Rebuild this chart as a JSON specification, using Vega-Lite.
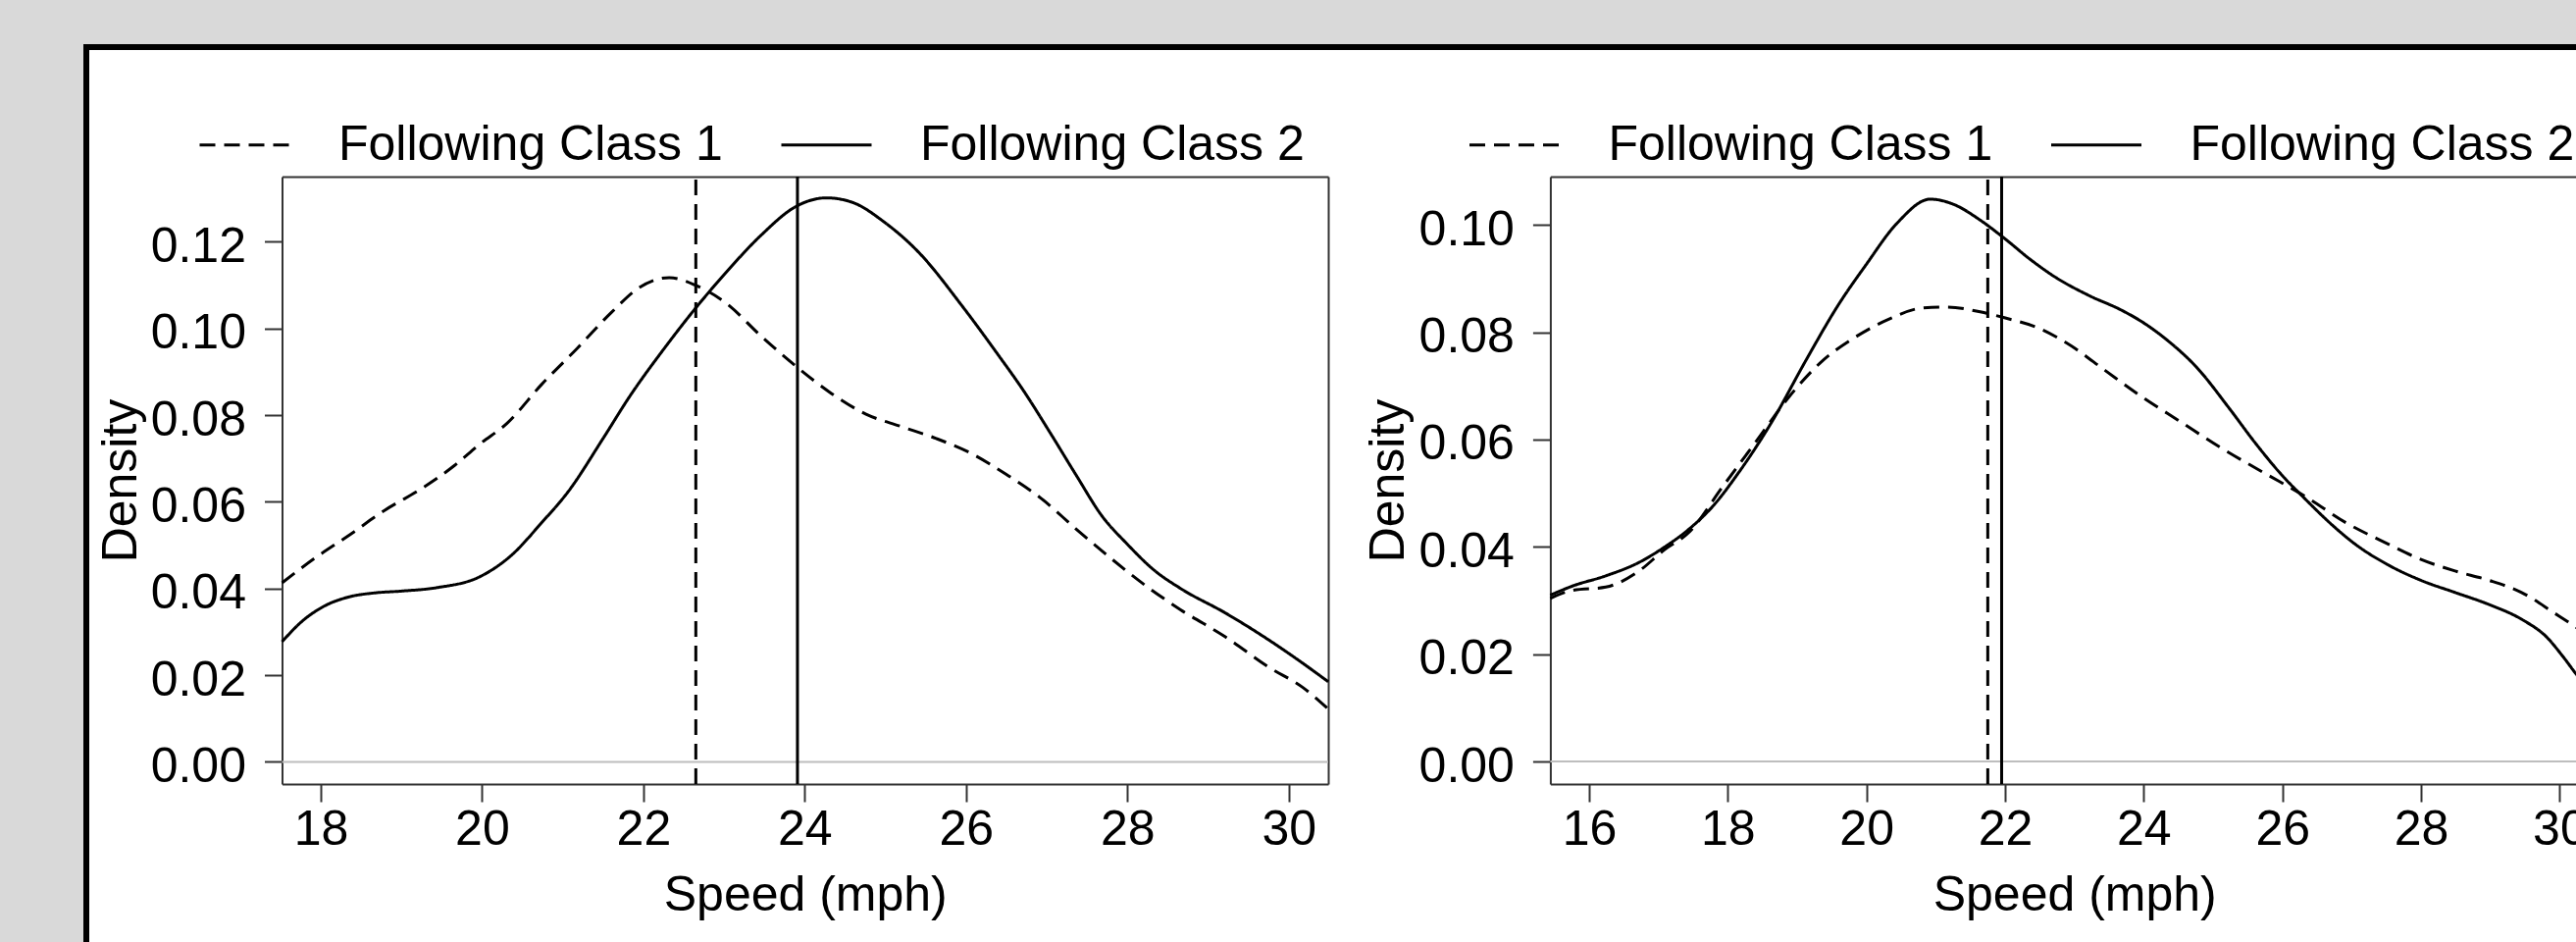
{
  "$schema": "https://vega.github.io/schema/vega-lite/v6.json",
  "background": "#d9d9d9",
  "autosize": {"type": "none"},
  "padding": {"left": 88, "top": 48, "right": -62, "bottom": -88},
  "width": 2600,
  "height": 1000,
  "config": {
    "font": "Liberation Sans",
    "view": {"fill": "white", "stroke": "black", "strokeWidth": 6},
    "axis": {"grid": false, "domainColor": "#333333", "domainWidth": 2, "tickColor": "#333333", "tickWidth": 2, "tickSize": 18, "labelFont": "Liberation Sans", "labelFontSize": 50, "labelColor": "black", "titleFont": "Liberation Sans", "titleFontSize": 50, "titleFontWeight": "normal", "titleColor": "black", "labelFlush": false, "labelOverlap": false},
    "legend": {"title": null, "orient": "none", "direction": "horizontal", "columns": 2, "symbolType": "stroke", "symbolSize": 8464, "symbolStrokeWidth": 3, "symbolStrokeColor": "black", "labelFont": "Liberation Sans", "labelFontSize": 50, "labelColor": "black", "labelOffset": 48, "columnPadding": 53, "padding": 0, "labelLimit": 1000}
  },
  "datasets": {
    "curves": [
      {"panel": "Left", "class": "Following Class 1", "speed": 17.52, "density": 0.0413},
      {"panel": "Left", "class": "Following Class 1", "speed": 17.92, "density": 0.0469},
      {"panel": "Left", "class": "Following Class 1", "speed": 18.36, "density": 0.0524},
      {"panel": "Left", "class": "Following Class 1", "speed": 18.79, "density": 0.0580},
      {"panel": "Left", "class": "Following Class 1", "speed": 19.23, "density": 0.0628},
      {"panel": "Left", "class": "Following Class 1", "speed": 19.66, "density": 0.0684},
      {"panel": "Left", "class": "Following Class 1", "speed": 19.97, "density": 0.0733},
      {"panel": "Left", "class": "Following Class 1", "speed": 20.31, "density": 0.0781},
      {"panel": "Left", "class": "Following Class 1", "speed": 20.74, "density": 0.0871},
      {"panel": "Left", "class": "Following Class 1", "speed": 21.18, "density": 0.0954},
      {"panel": "Left", "class": "Following Class 1", "speed": 21.61, "density": 0.1038},
      {"panel": "Left", "class": "Following Class 1", "speed": 21.94, "density": 0.1093},
      {"panel": "Left", "class": "Following Class 1", "speed": 22.32, "density": 0.1117},
      {"panel": "Left", "class": "Following Class 1", "speed": 22.64, "density": 0.1100},
      {"panel": "Left", "class": "Following Class 1", "speed": 23.02, "density": 0.1059},
      {"panel": "Left", "class": "Following Class 1", "speed": 23.46, "density": 0.0982},
      {"panel": "Left", "class": "Following Class 1", "speed": 23.89, "density": 0.0913},
      {"panel": "Left", "class": "Following Class 1", "speed": 24.33, "density": 0.0850},
      {"panel": "Left", "class": "Following Class 1", "speed": 24.76, "density": 0.0802},
      {"panel": "Left", "class": "Following Class 1", "speed": 25.19, "density": 0.0774},
      {"panel": "Left", "class": "Following Class 1", "speed": 25.63, "density": 0.0746},
      {"panel": "Left", "class": "Following Class 1", "speed": 26.06, "density": 0.0712},
      {"panel": "Left", "class": "Following Class 1", "speed": 26.50, "density": 0.0663},
      {"panel": "Left", "class": "Following Class 1", "speed": 26.93, "density": 0.0608},
      {"panel": "Left", "class": "Following Class 1", "speed": 27.36, "density": 0.0538},
      {"panel": "Left", "class": "Following Class 1", "speed": 27.80, "density": 0.0469},
      {"panel": "Left", "class": "Following Class 1", "speed": 28.23, "density": 0.0406},
      {"panel": "Left", "class": "Following Class 1", "speed": 28.66, "density": 0.0351},
      {"panel": "Left", "class": "Following Class 1", "speed": 29.21, "density": 0.0289},
      {"panel": "Left", "class": "Following Class 1", "speed": 29.75, "density": 0.0219},
      {"panel": "Left", "class": "Following Class 1", "speed": 30.18, "density": 0.0171},
      {"panel": "Left", "class": "Following Class 1", "speed": 30.49, "density": 0.0122},
      {"panel": "Left", "class": "Following Class 2", "speed": 17.52, "density": 0.0277},
      {"panel": "Left", "class": "Following Class 2", "speed": 17.76, "density": 0.0323},
      {"panel": "Left", "class": "Following Class 2", "speed": 18.03, "density": 0.0358},
      {"panel": "Left", "class": "Following Class 2", "speed": 18.36, "density": 0.0381},
      {"panel": "Left", "class": "Following Class 2", "speed": 18.68, "density": 0.0390},
      {"panel": "Left", "class": "Following Class 2", "speed": 19.00, "density": 0.0394},
      {"panel": "Left", "class": "Following Class 2", "speed": 19.44, "density": 0.0402},
      {"panel": "Left", "class": "Following Class 2", "speed": 19.97, "density": 0.0427},
      {"panel": "Left", "class": "Following Class 2", "speed": 20.36, "density": 0.0476},
      {"panel": "Left", "class": "Following Class 2", "speed": 20.74, "density": 0.0552},
      {"panel": "Left", "class": "Following Class 2", "speed": 21.07, "density": 0.0624},
      {"panel": "Left", "class": "Following Class 2", "speed": 21.50, "density": 0.0746},
      {"panel": "Left", "class": "Following Class 2", "speed": 21.83, "density": 0.0843},
      {"panel": "Left", "class": "Following Class 2", "speed": 22.26, "density": 0.0954},
      {"panel": "Left", "class": "Following Class 2", "speed": 22.64, "density": 0.1045},
      {"panel": "Left", "class": "Following Class 2", "speed": 23.02, "density": 0.1128},
      {"panel": "Left", "class": "Following Class 2", "speed": 23.46, "density": 0.1215},
      {"panel": "Left", "class": "Following Class 2", "speed": 23.89, "density": 0.1281},
      {"panel": "Left", "class": "Following Class 2", "speed": 24.27, "density": 0.1301},
      {"panel": "Left", "class": "Following Class 2", "speed": 24.60, "density": 0.1290},
      {"panel": "Left", "class": "Following Class 2", "speed": 24.98, "density": 0.1246},
      {"panel": "Left", "class": "Following Class 2", "speed": 25.41, "density": 0.1176},
      {"panel": "Left", "class": "Following Class 2", "speed": 25.95, "density": 0.1052},
      {"panel": "Left", "class": "Following Class 2", "speed": 26.39, "density": 0.0941},
      {"panel": "Left", "class": "Following Class 2", "speed": 26.71, "density": 0.0857},
      {"panel": "Left", "class": "Following Class 2", "speed": 27.04, "density": 0.0760},
      {"panel": "Left", "class": "Following Class 2", "speed": 27.36, "density": 0.0663},
      {"panel": "Left", "class": "Following Class 2", "speed": 27.69, "density": 0.0566},
      {"panel": "Left", "class": "Following Class 2", "speed": 27.99, "density": 0.0504},
      {"panel": "Left", "class": "Following Class 2", "speed": 28.34, "density": 0.0441},
      {"panel": "Left", "class": "Following Class 2", "speed": 28.66, "density": 0.0400},
      {"panel": "Left", "class": "Following Class 2", "speed": 29.21, "density": 0.0344},
      {"panel": "Left", "class": "Following Class 2", "speed": 29.64, "density": 0.0295},
      {"panel": "Left", "class": "Following Class 2", "speed": 30.08, "density": 0.0240},
      {"panel": "Left", "class": "Following Class 2", "speed": 30.49, "density": 0.0185},
      {"panel": "Right", "class": "Following Class 1", "speed": 15.44, "density": 0.0304},
      {"panel": "Right", "class": "Following Class 1", "speed": 15.76, "density": 0.0319},
      {"panel": "Right", "class": "Following Class 1", "speed": 16.24, "density": 0.0325},
      {"panel": "Right", "class": "Following Class 1", "speed": 16.72, "density": 0.0355},
      {"panel": "Right", "class": "Following Class 1", "speed": 17.08, "density": 0.0394},
      {"panel": "Right", "class": "Following Class 1", "speed": 17.44, "density": 0.0427},
      {"panel": "Right", "class": "Following Class 1", "speed": 17.92, "density": 0.0511},
      {"panel": "Right", "class": "Following Class 1", "speed": 18.40, "density": 0.0595},
      {"panel": "Right", "class": "Following Class 1", "speed": 18.88, "density": 0.0679},
      {"panel": "Right", "class": "Following Class 1", "speed": 19.36, "density": 0.0746},
      {"panel": "Right", "class": "Following Class 1", "speed": 19.84, "density": 0.0791},
      {"panel": "Right", "class": "Following Class 1", "speed": 20.32, "density": 0.0824},
      {"panel": "Right", "class": "Following Class 1", "speed": 20.80, "density": 0.0845},
      {"panel": "Right", "class": "Following Class 1", "speed": 21.16, "density": 0.0847},
      {"panel": "Right", "class": "Following Class 1", "speed": 21.64, "density": 0.0838},
      {"panel": "Right", "class": "Following Class 1", "speed": 21.99, "density": 0.0827},
      {"panel": "Right", "class": "Following Class 1", "speed": 22.48, "density": 0.0808},
      {"panel": "Right", "class": "Following Class 1", "speed": 22.96, "density": 0.0774},
      {"panel": "Right", "class": "Following Class 1", "speed": 23.44, "density": 0.0729},
      {"panel": "Right", "class": "Following Class 1", "speed": 23.98, "density": 0.0679},
      {"panel": "Right", "class": "Following Class 1", "speed": 24.52, "density": 0.0634},
      {"panel": "Right", "class": "Following Class 1", "speed": 25.12, "density": 0.0584},
      {"panel": "Right", "class": "Following Class 1", "speed": 25.72, "density": 0.0539},
      {"panel": "Right", "class": "Following Class 1", "speed": 26.33, "density": 0.0494},
      {"panel": "Right", "class": "Following Class 1", "speed": 26.93, "density": 0.0444},
      {"panel": "Right", "class": "Following Class 1", "speed": 27.53, "density": 0.0405},
      {"panel": "Right", "class": "Following Class 1", "speed": 27.99, "density": 0.0377},
      {"panel": "Right", "class": "Following Class 1", "speed": 28.49, "density": 0.0355},
      {"panel": "Right", "class": "Following Class 1", "speed": 28.97, "density": 0.0338},
      {"panel": "Right", "class": "Following Class 1", "speed": 29.45, "density": 0.0315},
      {"panel": "Right", "class": "Following Class 1", "speed": 29.93, "density": 0.0276},
      {"panel": "Right", "class": "Following Class 1", "speed": 30.26, "density": 0.0248},
      {"panel": "Right", "class": "Following Class 1", "speed": 30.56, "density": 0.0220},
      {"panel": "Right", "class": "Following Class 2", "speed": 15.44, "density": 0.0310},
      {"panel": "Right", "class": "Following Class 2", "speed": 15.76, "density": 0.0327},
      {"panel": "Right", "class": "Following Class 2", "speed": 16.24, "density": 0.0346},
      {"panel": "Right", "class": "Following Class 2", "speed": 16.72, "density": 0.0371},
      {"panel": "Right", "class": "Following Class 2", "speed": 17.08, "density": 0.0399},
      {"panel": "Right", "class": "Following Class 2", "speed": 17.44, "density": 0.0433},
      {"panel": "Right", "class": "Following Class 2", "speed": 17.80, "density": 0.0478},
      {"panel": "Right", "class": "Following Class 2", "speed": 18.16, "density": 0.0539},
      {"panel": "Right", "class": "Following Class 2", "speed": 18.64, "density": 0.0634},
      {"panel": "Right", "class": "Following Class 2", "speed": 19.12, "density": 0.0746},
      {"panel": "Right", "class": "Following Class 2", "speed": 19.60, "density": 0.0852},
      {"panel": "Right", "class": "Following Class 2", "speed": 19.99, "density": 0.0925},
      {"panel": "Right", "class": "Following Class 2", "speed": 20.44, "density": 0.1003},
      {"panel": "Right", "class": "Following Class 2", "speed": 20.92, "density": 0.1048},
      {"panel": "Right", "class": "Following Class 2", "speed": 21.28, "density": 0.1037},
      {"panel": "Right", "class": "Following Class 2", "speed": 21.64, "density": 0.1009},
      {"panel": "Right", "class": "Following Class 2", "speed": 21.99, "density": 0.0975},
      {"panel": "Right", "class": "Following Class 2", "speed": 22.36, "density": 0.0936},
      {"panel": "Right", "class": "Following Class 2", "speed": 22.72, "density": 0.0903},
      {"panel": "Right", "class": "Following Class 2", "speed": 23.20, "density": 0.0869},
      {"panel": "Right", "class": "Following Class 2", "speed": 23.68, "density": 0.0841},
      {"panel": "Right", "class": "Following Class 2", "speed": 23.98, "density": 0.0819},
      {"panel": "Right", "class": "Following Class 2", "speed": 24.34, "density": 0.0785},
      {"panel": "Right", "class": "Following Class 2", "speed": 24.76, "density": 0.0735},
      {"panel": "Right", "class": "Following Class 2", "speed": 25.24, "density": 0.0657},
      {"panel": "Right", "class": "Following Class 2", "speed": 25.60, "density": 0.0595},
      {"panel": "Right", "class": "Following Class 2", "speed": 25.99, "density": 0.0534},
      {"panel": "Right", "class": "Following Class 2", "speed": 26.33, "density": 0.0489},
      {"panel": "Right", "class": "Following Class 2", "speed": 26.69, "density": 0.0444},
      {"panel": "Right", "class": "Following Class 2", "speed": 27.05, "density": 0.0405},
      {"panel": "Right", "class": "Following Class 2", "speed": 27.53, "density": 0.0366},
      {"panel": "Right", "class": "Following Class 2", "speed": 27.99, "density": 0.0338},
      {"panel": "Right", "class": "Following Class 2", "speed": 28.49, "density": 0.0315},
      {"panel": "Right", "class": "Following Class 2", "speed": 28.97, "density": 0.0293},
      {"panel": "Right", "class": "Following Class 2", "speed": 29.45, "density": 0.0265},
      {"panel": "Right", "class": "Following Class 2", "speed": 29.81, "density": 0.0232},
      {"panel": "Right", "class": "Following Class 2", "speed": 30.05, "density": 0.0195},
      {"panel": "Right", "class": "Following Class 2", "speed": 30.26, "density": 0.0159},
      {"panel": "Right", "class": "Following Class 2", "speed": 30.56, "density": 0.0115}
    ],
    "means": [
      {"panel": "Left", "class": "Following Class 1", "speed": 22.65},
      {"panel": "Left", "class": "Following Class 2", "speed": 23.91},
      {"panel": "Right", "class": "Following Class 1", "speed": 21.75},
      {"panel": "Right", "class": "Following Class 2", "speed": 21.95}
    ]
  },
  "layer": [
    {
      "layer": [
        {
          "data": {"name": "curves"},
          "transform": [{"filter": "datum.panel === 'Left'"}],
          "layer": [
            {
              "mark": {"type": "rule", "color": "#bebebe", "strokeWidth": 2},
              "encoding": {
                "x": {"aggregate": "min", "field": "speed", "type": "quantitative"},
                "x2": {"aggregate": "max", "field": "speed"},
                "y": {"datum": 0, "type": "quantitative"}
              }
            },
            {
              "mark": {"type": "line", "color": "black", "strokeWidth": 3, "interpolate": "monotone"},
              "encoding": {
                "x": {"field": "speed", "type": "quantitative",
                  "scale": {"domain": [17.52, 30.49], "range": [199.5, 1266], "nice": false, "zero": false},
                  "axis": {"orient": "bottom", "offset": -249, "values": [18, 20, 22, 24, 26, 28, 30], "format": "d", "title": "Speed (mph)", "titleBaseline": "alphabetic", "titleY": 128, "labelBaseline": "alphabetic", "labelPadding": 43}},
                "y": {"field": "density", "type": "quantitative",
                  "scale": {"domain": [-0.0051, 0.1350], "range": [751, 132], "nice": false, "zero": false},
                  "axis": {"orient": "left", "offset": -199.5, "values": [0, 0.02, 0.04, 0.06, 0.08, 0.1, 0.12], "format": ".2f", "title": "Density", "titleX": -149.5, "titleY": 441.5, "titleBaseline": "alphabetic", "titleAngle": 270, "labelBaseline": "alphabetic", "labelOffset": 20, "labelPadding": 19}},
                "strokeDash": {"field": "class", "type": "nominal",
                  "scale": {"domain": ["Following Class 1", "Following Class 2"], "range": [[16, 9], [1, 0]]},
                  "legend": {"legendX": 114, "legendY": 52}}
              }
            }
          ]
        },
        {
          "data": {"name": "means"},
          "transform": [{"filter": "datum.panel === 'Left'"}],
          "mark": {"type": "rule", "color": "black", "strokeWidth": 3},
          "encoding": {
            "x": {"field": "speed", "type": "quantitative", "axis": {"orient": "top", "offset": -132, "ticks": false, "labels": false, "title": null}},
            "y": {"datum": -0.0051, "type": "quantitative", "axis": {"orient": "right", "offset": -1334, "ticks": false, "labels": false, "title": null}},
            "y2": {"datum": 0.1350},
            "strokeDash": {"field": "class", "type": "nominal"}
          }
        }
      ],
      "resolve": {"axis": {"x": "independent", "y": "independent"}}
    },
    {
      "layer": [
        {
          "data": {"name": "curves"},
          "transform": [{"filter": "datum.panel === 'Right'"}],
          "layer": [
            {
              "mark": {"type": "rule", "color": "#bebebe", "strokeWidth": 2},
              "encoding": {
                "x": {"aggregate": "min", "field": "speed", "type": "quantitative"},
                "x2": {"aggregate": "max", "field": "speed"},
                "y": {"datum": 0, "type": "quantitative"}
              }
            },
            {
              "mark": {"type": "line", "color": "black", "strokeWidth": 3, "interpolate": "monotone"},
              "encoding": {
                "x": {"field": "speed", "type": "quantitative",
                  "scale": {"domain": [15.44, 30.56], "range": [1492.4, 2561], "nice": false, "zero": false},
                  "axis": {"orient": "bottom", "offset": -249, "values": [16, 18, 20, 22, 24, 26, 28, 30], "format": "d", "title": "Speed (mph)", "titleBaseline": "alphabetic", "titleY": 128, "labelBaseline": "alphabetic", "labelPadding": 43}},
                "y": {"field": "density", "type": "quantitative",
                  "scale": {"domain": [-0.0042, 0.1090], "range": [751, 132], "nice": false, "zero": false},
                  "axis": {"orient": "left", "offset": -1492.4, "values": [0, 0.02, 0.04, 0.06, 0.08, 0.1], "format": ".2f", "title": "Density", "titleX": -149.5, "titleY": 441.5, "titleBaseline": "alphabetic", "titleAngle": 270, "labelBaseline": "alphabetic", "labelOffset": 20, "labelPadding": 19}},
                "strokeDash": {"field": "class", "type": "nominal",
                  "scale": {"domain": ["Following Class 1", "Following Class 2"], "range": [[16, 9], [1, 0]]},
                  "legend": {"legendX": 1408.5, "legendY": 52}}
              }
            }
          ]
        },
        {
          "data": {"name": "means"},
          "transform": [{"filter": "datum.panel === 'Right'"}],
          "mark": {"type": "rule", "color": "black", "strokeWidth": 3},
          "encoding": {
            "x": {"field": "speed", "type": "quantitative", "axis": {"orient": "top", "offset": -132, "ticks": false, "labels": false, "title": null}},
            "y": {"datum": -0.0042, "type": "quantitative", "axis": null},
            "y2": {"datum": 0.1090},
            "strokeDash": {"field": "class", "type": "nominal"}
          }
        }
      ],
      "resolve": {"axis": {"x": "independent", "y": "independent"}}
    }
  ],
  "resolve": {
    "scale": {"x": "independent", "y": "independent", "strokeDash": "independent"},
    "axis": {"x": "independent", "y": "independent"},
    "legend": {"strokeDash": "independent"}
  }
}
